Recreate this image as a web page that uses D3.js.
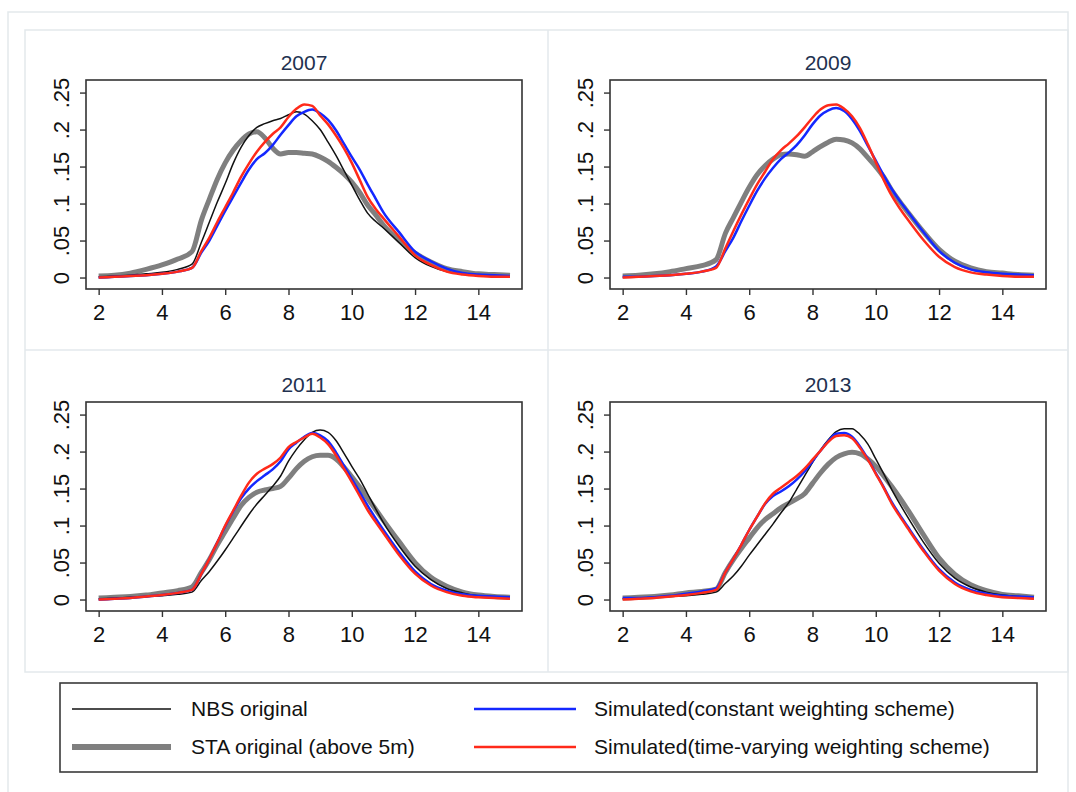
<!DOCTYPE html>
<html>
<head>
<meta charset="utf-8">
<script src="https://cdn.jsdelivr.net/npm/d3@7"></script>
<style>
  body { margin: 0; background: #fff; }
  svg { display: block; font-family: "Liberation Sans", Arial, Helvetica, sans-serif; }
</style>
</head>
<body>
<div id="chart"></div>
<script>
// grid of log-wage points shared by all curves
const xs = [2, 2.5, 3, 3.5, 4, 4.5, 4.95, 5.25, 5.5, 5.75, 6, 6.25, 6.5, 6.75, 7, 7.25, 7.5, 7.75,
            8, 8.25, 8.5, 8.75, 9, 9.25, 9.5, 9.75, 10, 10.25, 10.5, 10.75, 11, 11.5, 12, 12.5,
            13, 13.5, 14, 14.5, 15];

const years = ["2007", "2009", "2011", "2013"];

const nbs2007 = [0.001, 0.002, 0.003, 0.005, 0.007, 0.011, 0.018, 0.048, 0.075, 0.102, 0.127, 0.154, 0.176, 0.192, 0.203, 0.208, 0.212, 0.215,
                 0.220, 0.224, 0.221, 0.212, 0.200, 0.183, 0.165, 0.145, 0.125, 0.105, 0.087, 0.076, 0.067, 0.047, 0.027, 0.015,
                 0.008, 0.005, 0.003, 0.002, 0.002];
const sta2007 = [0.002, 0.003, 0.006, 0.011, 0.017, 0.025, 0.035, 0.078, 0.106, 0.133, 0.155, 0.172, 0.185, 0.194, 0.197, 0.189, 0.175, 0.167,
                 0.169, 0.169, 0.168, 0.167, 0.163, 0.157, 0.149, 0.140, 0.129, 0.115, 0.098, 0.085, 0.071, 0.050, 0.033, 0.021,
                 0.012, 0.008, 0.005, 0.004, 0.003];
const simConst2007 = [0.000, 0.001, 0.002, 0.003, 0.005, 0.008, 0.013, 0.034, 0.050, 0.070, 0.090, 0.109, 0.128, 0.146, 0.160, 0.168, 0.179, 0.193,
                      0.206, 0.218, 0.224, 0.227, 0.222, 0.213, 0.199, 0.181, 0.163, 0.146, 0.126, 0.107, 0.088, 0.061, 0.035, 0.022,
                      0.012, 0.006, 0.004, 0.003, 0.002];
const simTv2007 = [0.000, 0.001, 0.002, 0.003, 0.005, 0.008, 0.013, 0.036, 0.054, 0.075, 0.095, 0.115, 0.136, 0.154, 0.170, 0.183, 0.194, 0.203,
                   0.217, 0.228, 0.234, 0.232, 0.219, 0.207, 0.192, 0.175, 0.155, 0.132, 0.109, 0.093, 0.080, 0.055, 0.030, 0.017,
                   0.008, 0.004, 0.002, 0.001, 0.001];

// no NBS series for 2009
const sta2009 = [0.002, 0.003, 0.005, 0.008, 0.012, 0.016, 0.024, 0.060, 0.081, 0.102, 0.122, 0.139, 0.151, 0.160, 0.166, 0.167, 0.166, 0.164,
                 0.170, 0.177, 0.183, 0.187, 0.186, 0.182, 0.174, 0.162, 0.150, 0.136, 0.118, 0.103, 0.089, 0.062, 0.038, 0.022,
                 0.013, 0.008, 0.006, 0.004, 0.003];
const simConst2009 = [0.001, 0.001, 0.002, 0.003, 0.005, 0.008, 0.015, 0.036, 0.054, 0.076, 0.097, 0.117, 0.134, 0.148, 0.160, 0.169, 0.179, 0.192,
                      0.207, 0.219, 0.226, 0.229, 0.225, 0.214, 0.198, 0.178, 0.158, 0.138, 0.120, 0.104, 0.090, 0.062, 0.036, 0.020,
                      0.011, 0.007, 0.005, 0.004, 0.003];
const simTv2009 = [0.000, 0.001, 0.002, 0.003, 0.005, 0.008, 0.013, 0.040, 0.063, 0.085, 0.106, 0.126, 0.143, 0.160, 0.172, 0.181, 0.191, 0.203,
                   0.216, 0.227, 0.233, 0.234, 0.228, 0.218, 0.202, 0.180, 0.156, 0.132, 0.111, 0.094, 0.079, 0.051, 0.028, 0.014,
                   0.007, 0.004, 0.002, 0.001, 0.001];

const nbs2011 = [0.001, 0.002, 0.003, 0.004, 0.005, 0.007, 0.010, 0.026, 0.038, 0.052, 0.067, 0.083, 0.099, 0.115, 0.129, 0.141, 0.153, 0.167,
                 0.187, 0.203, 0.216, 0.226, 0.229, 0.226, 0.215, 0.198, 0.180, 0.163, 0.143, 0.123, 0.104, 0.072, 0.045, 0.027,
                 0.015, 0.009, 0.005, 0.003, 0.002];
const sta2011 = [0.002, 0.003, 0.004, 0.006, 0.009, 0.012, 0.017, 0.037, 0.054, 0.074, 0.092, 0.110, 0.127, 0.138, 0.145, 0.148, 0.150, 0.153,
                 0.164, 0.177, 0.187, 0.193, 0.195, 0.195, 0.190, 0.179, 0.166, 0.152, 0.137, 0.122, 0.107, 0.078, 0.050, 0.030,
                 0.018, 0.010, 0.006, 0.004, 0.003];
const simConst2011 = [0.000, 0.001, 0.002, 0.004, 0.006, 0.009, 0.013, 0.035, 0.055, 0.077, 0.099, 0.119, 0.137, 0.150, 0.160, 0.168, 0.176, 0.187,
                      0.203, 0.212, 0.220, 0.225, 0.222, 0.214, 0.199, 0.181, 0.163, 0.145, 0.127, 0.110, 0.094, 0.064, 0.038, 0.021,
                      0.012, 0.007, 0.005, 0.004, 0.003];
const simTv2011 = [0.000, 0.001, 0.002, 0.004, 0.006, 0.009, 0.013, 0.035, 0.055, 0.077, 0.100, 0.120, 0.140, 0.158, 0.170, 0.177, 0.183, 0.192,
                   0.206, 0.213, 0.219, 0.224, 0.219, 0.210, 0.195, 0.177, 0.159, 0.140, 0.121, 0.105, 0.090, 0.060, 0.035, 0.019,
                   0.010, 0.005, 0.003, 0.002, 0.001];

const nbs2013 = [0.001, 0.002, 0.003, 0.004, 0.005, 0.007, 0.010, 0.022, 0.032, 0.045, 0.060, 0.074, 0.088, 0.102, 0.117, 0.131, 0.149, 0.167,
                 0.185, 0.202, 0.216, 0.227, 0.231, 0.231, 0.223, 0.210, 0.190, 0.170, 0.149, 0.130, 0.112, 0.078, 0.049, 0.029,
                 0.017, 0.010, 0.006, 0.004, 0.003];
const sta2013 = [0.002, 0.003, 0.004, 0.006, 0.009, 0.011, 0.014, 0.037, 0.054, 0.069, 0.083, 0.097, 0.108, 0.116, 0.124, 0.130, 0.136, 0.143,
                 0.157, 0.171, 0.183, 0.192, 0.197, 0.199, 0.197, 0.190, 0.180, 0.167, 0.153, 0.138, 0.122, 0.088, 0.056, 0.034,
                 0.020, 0.012, 0.007, 0.005, 0.003];
const simConst2013 = [0.002, 0.002, 0.003, 0.005, 0.008, 0.011, 0.015, 0.037, 0.055, 0.074, 0.094, 0.112, 0.129, 0.140, 0.146, 0.153, 0.162, 0.173,
                      0.187, 0.201, 0.214, 0.224, 0.225, 0.220, 0.207, 0.190, 0.171, 0.152, 0.132, 0.115, 0.099, 0.068, 0.041, 0.023,
                      0.013, 0.008, 0.005, 0.004, 0.003];
const simTv2013 = [0.000, 0.001, 0.002, 0.004, 0.006, 0.009, 0.013, 0.037, 0.055, 0.074, 0.094, 0.112, 0.130, 0.143, 0.151, 0.159, 0.167, 0.177,
                   0.189, 0.201, 0.213, 0.221, 0.222, 0.218, 0.205, 0.189, 0.170, 0.151, 0.130, 0.113, 0.097, 0.066, 0.039, 0.021,
                   0.011, 0.006, 0.003, 0.002, 0.001];

const xTicks = [2, 4, 6, 8, 10, 12, 14];
const yTicks = [0, 0.05, 0.1, 0.15, 0.2, 0.25];
const yTickLabels = ["0", ".05", ".1", ".15", ".2", ".25"];

const legendLabels = ["NBS original", "STA original (above 5m)",
                      "Simulated(constant weighting scheme)", "Simulated(time-varying weighting scheme)"];

// series styles, in drawing order (gray under black, red on top)
const styles = {
  sta:   { color: "#7f7f7f", width: 5 },
  nbs:   { color: "#111111", width: 1.5 },
  const: { color: "#1428ff", width: 2.5 },
  tv:    { color: "#ff2a1a", width: 2.5 }
};

const panels = [
  { title: years[0], col: 0, row: 0, series: { sta: sta2007, nbs: nbs2007, const: simConst2007, tv: simTv2007 } },
  { title: years[1], col: 1, row: 0, series: { sta: sta2009, const: simConst2009, tv: simTv2009 } },
  { title: years[2], col: 0, row: 1, series: { sta: sta2011, nbs: nbs2011, const: simConst2011, tv: simTv2011 } },
  { title: years[3], col: 1, row: 1, series: { sta: sta2013, nbs: nbs2013, const: simConst2013, tv: simTv2013 } }
];

const W = 1076, H = 792;
const frameLeft = [86, 610];
const frameTop = [80, 402];
const frameW = 436, frameH = 209;

const svg = d3.select("#chart").append("svg")
  .attr("width", W)
  .attr("height", H);

// faint page / table lines behind the figure
const faint = "#e3e9ec";
svg.append("rect").attr("x", 8).attr("y", 12).attr("width", 1060).attr("height", 800)
  .attr("fill", "none").attr("stroke", faint).attr("stroke-width", 1.5);
svg.append("rect").attr("x", 25).attr("y", 30).attr("width", 1043).attr("height", 642)
  .attr("fill", "none").attr("stroke", faint).attr("stroke-width", 1.5);
svg.append("line").attr("x1", 548).attr("x2", 548).attr("y1", 30).attr("y2", 672)
  .attr("stroke", faint).attr("stroke-width", 1.5);
svg.append("line").attr("x1", 25).attr("x2", 1068).attr("y1", 350).attr("y2", 350)
  .attr("stroke", faint).attr("stroke-width", 1.5);

panels.forEach(p => {
  const x0 = frameLeft[p.col], y0 = frameTop[p.row];
  const xScale = d3.scaleLinear().domain([1.6, 15.38]).range([x0, x0 + frameW]);
  const yScale = d3.scaleLinear().domain([-0.0155, 0.267]).range([y0 + frameH, y0]);

  const g = svg.append("g");

  // title
  g.append("text")
    .attr("x", x0 + frameW / 2)
    .attr("y", y0 - 10)
    .attr("text-anchor", "middle")
    .attr("font-size", "21px")
    .attr("fill", "#22314f")
    .text(p.title);

  // plot frame
  g.append("rect")
    .attr("x", x0).attr("y", y0)
    .attr("width", frameW).attr("height", frameH)
    .attr("fill", "#fff")
    .attr("stroke", "#333")
    .attr("stroke-width", 1.6);

  // x axis
  const xAxis = g.append("g")
    .attr("transform", "translate(0," + (y0 + frameH) + ")")
    .call(d3.axisBottom(xScale).tickValues(xTicks).tickSize(6).tickFormat(d3.format("d")));
  xAxis.select(".domain").remove();
  xAxis.selectAll("line").attr("stroke", "#333").attr("stroke-width", 1.4);
  xAxis.selectAll("text")
    .attr("y", 15)
    .attr("font-size", "22px")
    .attr("font-family", "Liberation Sans, Arial, sans-serif")
    .attr("fill", "#111");

  // y axis, labels turned on their side
  const yAxis = g.append("g")
    .attr("transform", "translate(" + x0 + ",0)")
    .call(d3.axisLeft(yScale).tickValues(yTicks).tickSize(6).tickFormat((d, i) => yTickLabels[i]));
  yAxis.select(".domain").remove();
  yAxis.selectAll("line").attr("stroke", "#333").attr("stroke-width", 1.4);
  yAxis.selectAll("text")
    .attr("x", 0)
    .attr("dy", 0)
    .attr("text-anchor", "middle")
    .attr("transform", "translate(-17,0) rotate(-90)")
    .attr("font-size", "22px")
    .attr("font-family", "Liberation Sans, Arial, sans-serif")
    .attr("fill", "#111");

  const line = d3.line()
    .x((d, i) => xScale(xs[i]))
    .y(d => yScale(d))
    .curve(d3.curveMonotoneX);

  ["sta", "nbs", "const", "tv"].forEach(key => {
    const values = p.series[key];
    if (!values) return;
    g.append("path")
      .datum(values)
      .attr("d", line)
      .attr("fill", "none")
      .attr("stroke", styles[key].color)
      .attr("stroke-width", styles[key].width)
      .attr("stroke-linejoin", "round");
  });
});

// legend
const legend = svg.append("g");
legend.append("rect")
  .attr("x", 60).attr("y", 683)
  .attr("width", 977).attr("height", 89)
  .attr("fill", "#fff")
  .attr("stroke", "#3a3a3a")
  .attr("stroke-width", 1.6);

const legendKeys = ["nbs", "sta", "const", "tv"];
const legendCols = [{ x1: 72, x2: 171, tx: 191 }, { x1: 474, x2: 576, tx: 594 }];
const legendRows = [709, 747];

legendKeys.forEach((key, i) => {
  const c = legendCols[Math.floor(i / 2)];
  const yy = legendRows[i % 2];
  legend.append("line")
    .attr("x1", c.x1).attr("x2", c.x2)
    .attr("y1", yy).attr("y2", yy)
    .attr("stroke", styles[key].color)
    .attr("stroke-width", key === "sta" ? 6 : styles[key].width);
  legend.append("text")
    .attr("x", c.tx)
    .attr("y", yy + 7)
    .attr("font-size", "21px")
    .attr("fill", "#111")
    .text(legendLabels[i]);
});
</script>
</body>
</html>
